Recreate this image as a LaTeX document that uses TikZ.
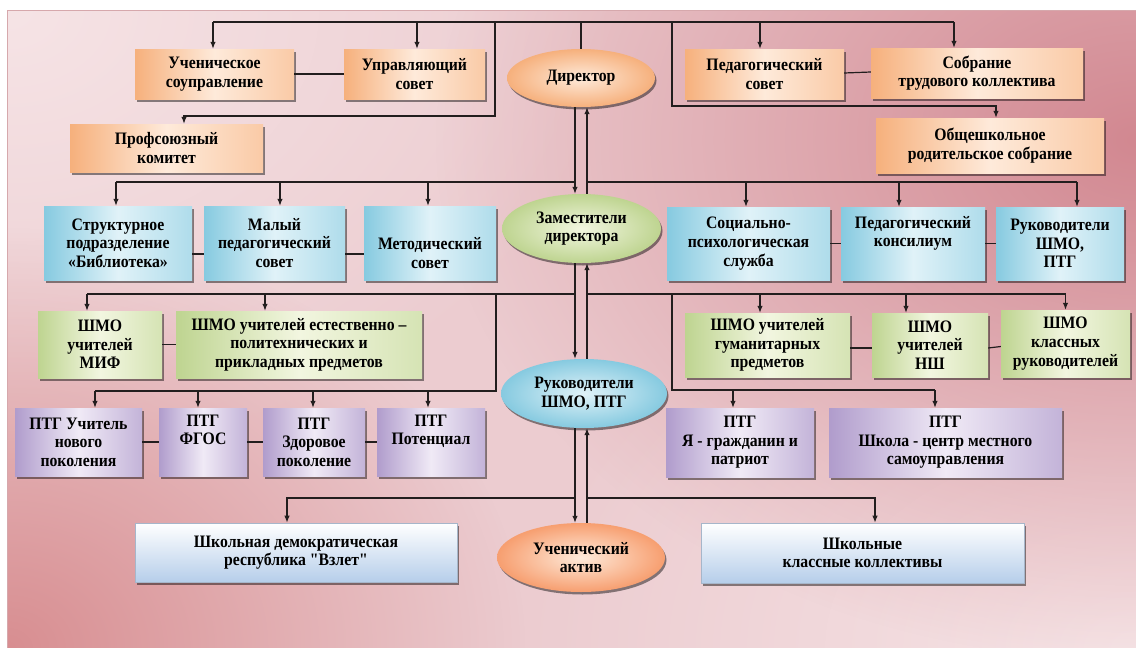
\documentclass[tikz,border=0pt]{standalone}
\usepackage{fontspec}
\setmainfont{Liberation Serif}[Ligatures=TeXOff]
\usepackage{tikz}
\usetikzlibrary{positioning, shapes.geometric, shadows, fadings, arrows.meta}

\definecolor{bgBase}{RGB}{236, 204, 208}
\definecolor{bgLight}{RGB}{246, 228, 230}
\definecolor{bgDark}{RGB}{210, 136, 145}
\definecolor{bgDarkB}{RGB}{216, 142, 145}
\definecolor{bgEdge}{RGB}{214, 168, 172}
\definecolor{orgCol}{RGB}{246, 176, 124}
\definecolor{orgLight}{RGB}{254, 234, 218}
\definecolor{bluCol}{RGB}{134, 202, 224}
\definecolor{bluLight}{RGB}{224, 242, 248}
\definecolor{grnCol}{RGB}{190, 212, 144}
\definecolor{grnLight}{RGB}{242, 246, 224}
\definecolor{purCol}{RGB}{176, 156, 204}
\definecolor{purLight}{RGB}{240, 234, 246}
\definecolor{whtBot}{RGB}{182, 206, 234}
\definecolor{lineCol}{RGB}{34, 30, 30}

\tikzfading[name=softSpot, inner color=transparent!0, outer color=transparent!100]

\tikzset{myLine/.style={line width=1.2pt, color=lineCol}}
\tikzset{myArrow/.style={myLine, -{Latex[length=7pt, width=5.5pt]}}}
\tikzset{mySize/.style 2 args={minimum width=#1pt, minimum height=#2pt}}
\tikzset{myBase/.style={align=center, inner sep=1pt,
	font=\addfontfeature{FakeStretch=0.9}\bfseries\fontsize{17.5}{18.6}\selectfont,
	drop shadow={shadow xshift=1.5pt, shadow yshift=-2.5pt, opacity=0.45, fill=black}}}
\tikzset{orgBox/.style={myBase, rectangle, left color=orgCol, right color=orgCol!55!orgLight, middle color=orgLight}}
\tikzset{bluBox/.style={myBase, rectangle, left color=bluCol, right color=bluCol!55!bluLight, middle color=bluLight}}
\tikzset{grnBox/.style={myBase, rectangle, left color=grnCol, right color=grnCol!55!grnLight, middle color=grnLight}}
\tikzset{purBox/.style={myBase, rectangle, left color=purCol, right color=purCol!70!purLight, middle color=purLight}}
\tikzset{whtBox/.style={myBase, rectangle, top color=white, bottom color=whtBot, draw=whtBot!70!gray, line width=0.6pt}}
\tikzset{myOval/.style={myBase, ellipse, inner sep=0pt}}

\begin{document}
\begin{tikzpicture}[x=1pt, y=-1pt]
	\useasboundingbox (0,0) rectangle (1136,648);
	%background
	\begin{scope}
		\clip (7,10) rectangle (1136,648);
		\fill[bgBase] (7,10) rectangle (1136,648);
		\fill[bgLight, path fading=softSpot] (7,10) ellipse [x radius=620pt, y radius=460pt];
		\fill[bgLight, path fading=softSpot] (1136,648) ellipse [x radius=620pt, y radius=420pt];
		\fill[bgDark, path fading=softSpot] (1136,140) ellipse [x radius=700pt, y radius=520pt];
		\fill[bgDarkB, path fading=softSpot] (7,648) ellipse [x radius=520pt, y radius=420pt];
	\end{scope}
	\draw[bgEdge, line width=0.8pt] (1136,10) -- (7,10) -- (7,648);

	%ovals
	\node[myOval, mySize={148}{58}, inner color=orgLight, outer color=orgCol] (dir) at (581,78) {Директор};
	\node[myOval, mySize={159}{69}, inner color=grnLight, outer color=grnCol] (zam) at (581.5,228.5) {Заместители\\директора};
	\node[myOval, mySize={166}{69}, inner color=bluLight, outer color=bluCol] (rukOval) at (584,393.5) {Руководители\\ШМО, ПТГ};
	\node[myOval, mySize={168}{69}, inner color=orgLight, outer color=orgCol!90!red] (uchAkt) at (581,557.5) {Ученический\\актив};

	%orange boxes
	\node[orgBox, mySize={159}{50}] (uchSou) at (214.5,74) {Ученическое\\соуправление};
	\node[orgBox, mySize={141}{50}] (uprSov) at (414.5,74) {Управляющий\\совет};
	\node[orgBox, mySize={193}{48}] (prof) at (166.5,148) {Профсоюзный\\комитет};
	\node[orgBox, mySize={159}{50}] (pedSov) at (764.5,74) {Педагогический\\совет};
	\node[orgBox, mySize={212}{50}] (sobr) at (977,73) {Собрание\\трудового коллектива};
	\node[orgBox, mySize={228}{55}] (obsh) at (990,145.5) {Общешкольное\\родительское собрание};

	%blue boxes
	\node[bluBox, mySize={148}{74}] (strPod) at (118,243) {Структурное\\подразделение\\«Библиотека»};
	\node[bluBox, mySize={141}{74}] (malPed) at (274.5,243) {Малый\\педагогический\\совет};
	\node[bluBox, mySize={132}{74}] (metSov) at (430,243) {\strut\\Методический\\совет};
	\node[bluBox, mySize={163}{73}] (socPsy) at (748.5,243.5) {Социально-\\психологическая\\служба};
	\node[bluBox, mySize={144}{73}] (pedKon) at (913,243.5) {Педагогический\\консилиум\\\strut};
	\node[bluBox, mySize={128}{73}] (rukShmo) at (1060,243.5) {Руководители\\ШМО,\\ПТГ};

	%green boxes
	\node[grnBox, mySize={124}{67}] (shmoMif) at (100,344.5) {ШМО\\учителей\\МИФ};
	\node[grnBox, mySize={246}{67}] (shmoEst) at (299,344.5) {ШМО учителей естественно –\\политехнических и\\прикладных предметов};
	\node[grnBox, mySize={165}{64}] (shmoGum) at (767.5,345) {ШМО учителей\\гуманитарных\\предметов};
	\node[grnBox, mySize={116}{64}] (shmoNsh) at (930,345) {ШМО\\учителей\\НШ};
	\node[grnBox, mySize={129}{67}] (shmoKl) at (1065.5,343.5) {ШМО\\классных\\руководителей};

	%purple boxes
	\node[purBox, mySize={127}{68}] (ptgUch) at (78.5,442) {ПТГ Учитель\\нового\\поколения};
	\node[purBox, mySize={88}{68}] (ptgFgos) at (203,442) {ПТГ\\ФГОС\\\strut};
	\node[purBox, mySize={102}{68}] (ptgZdor) at (314,442) {ПТГ\\Здоровое\\поколение};
	\node[purBox, mySize={108}{68}] (ptgPot) at (431,442) {ПТГ\\Потенциал\\\strut};
	\node[purBox, mySize={148}{69}] (ptgGrazh) at (740,442.5) {ПТГ\\Я - гражданин и\\патриот};
	\node[purBox, mySize={233}{69}] (ptgShk) at (945.5,442.5) {ПТГ\\Школа - центр местного\\самоуправления};

	%white boxes
	\node[whtBox, mySize={322}{59}] (shkDem) at (296,552.5) {Школьная демократическая\\республика "Взлет"};
	\node[whtBox, mySize={323}{60}] (shkKl) at (862.5,553) {Школьные\\классные коллективы};

	%main column
	\coordinate (vDn) at (575,0);
	\coordinate (vUp) at (587,0);
	\draw[myArrow] (dir.south -| vDn) -- (zam.north -| vDn);
	\draw[myArrow] (zam.north -| vUp) -- (dir.south -| vUp);
	\draw[myArrow] (zam.south -| vDn) -- (rukOval.north -| vDn);
	\draw[myArrow] (rukOval.north -| vUp) -- (zam.south -| vUp);
	\draw[myArrow] (rukOval.south -| vDn) -- (uchAkt.north -| vDn);
	\draw[myArrow] (uchAkt.north -| vUp) -- (rukOval.south -| vUp);

	%top bus
	\coordinate (topA) at (213,22);
	\coordinate (topB) at (954,22);
	\coordinate (hookL) at (495,116);
	\coordinate (hookR) at (672,106);
	\draw[myLine] (topA) -- (topB);
	\draw[myLine] (dir.north) -- (dir.north |- topA);
	\draw[myArrow] (topA) -- (topA |- uchSou.north);
	\draw[myArrow] ([xshift=2.5pt]uprSov.north |- topA) -- ([xshift=2.5pt]uprSov.north);
	\draw[myArrow] ([xshift=-4.5pt]pedSov.north |- topA) -- ([xshift=-4.5pt]pedSov.north);
	\draw[myArrow] (topB) -- (topB |- sobr.north);
	\draw[myArrow] (hookL |- topA) -- (hookL) -| ([xshift=17.5pt]prof.north);
	\draw[myArrow] (hookR |- topA) -- (hookR) -| ([xshift=6pt]obsh.north);
	\draw[myLine] (uchSou.east) -- (uprSov.west);
	\draw[myLine] ([yshift=1pt]pedSov.east) -- ([yshift=1pt]sobr.west);

	%second bus
	\coordinate (busB) at (0,182);
	\draw[myLine] ([xshift=-2pt]strPod.north |- busB) -- (vDn |- busB);
	\draw[myLine] (vUp |- busB) -- ([xshift=17pt]rukShmo.north |- busB);
	\draw[myArrow] ([xshift=-2pt]strPod.north |- busB) -- ([xshift=-2pt]strPod.north);
	\draw[myArrow] ([xshift=5.5pt]malPed.north |- busB) -- ([xshift=5.5pt]malPed.north);
	\draw[myArrow] ([xshift=-2pt]metSov.north |- busB) -- ([xshift=-2pt]metSov.north);
	\draw[myArrow] ([xshift=-2.5pt]socPsy.north |- busB) -- ([xshift=-2.5pt]socPsy.north);
	\draw[myArrow] ([xshift=-14pt]pedKon.north |- busB) -- ([xshift=-14pt]pedKon.north);
	\draw[myArrow] ([xshift=17pt]rukShmo.north |- busB) -- ([xshift=17pt]rukShmo.north);
	\draw[myLine] ([yshift=-11pt]strPod.east) -- ([yshift=-11pt]malPed.west);
	\draw[myLine] ([yshift=-11pt]malPed.east) -- ([yshift=-11pt]metSov.west);
	\draw[myLine] (socPsy.east) -- (pedKon.west);
	\draw[myLine] (pedKon.east) -- (rukShmo.west);

	%third bus
	\coordinate (busC) at (0,294);
	\coordinate (hookC) at (496,391);
	\coordinate (hookD) at (672,390);
	\draw[myLine] ([xshift=-13pt]shmoMif.north |- busC) -- (vDn |- busC);
	\draw[myLine] (vUp |- busC) -- (shmoKl.north |- busC);
	\draw[myArrow] ([xshift=-13pt]shmoMif.north |- busC) -- ([xshift=-13pt]shmoMif.north);
	\draw[myArrow] ([xshift=-34pt]shmoEst.north |- busC) -- ([xshift=-34pt]shmoEst.north);
	\draw[myArrow] ([xshift=-7.5pt]shmoGum.north |- busC) -- ([xshift=-7.5pt]shmoGum.north);
	\draw[myArrow] ([xshift=-24pt]shmoNsh.north |- busC) -- ([xshift=-24pt]shmoNsh.north);
	\draw[myArrow] (shmoKl.north |- busC) -- (shmoKl.north);
	\draw[myLine] (shmoMif.east) -- (shmoEst.west);
	\draw[myLine] ([yshift=-3pt]shmoGum.east) -- ([yshift=-3pt]shmoNsh.west);
	\draw[myLine] ([yshift=-3pt]shmoNsh.east) -- ([yshift=-3pt]shmoKl.west);

	%fourth bus
	\draw[myLine] (hookC |- busC) -- (hookC) -- ([xshift=16.5pt]ptgUch.north |- hookC);
	\draw[myLine] (hookD |- busC) -- (hookD) -- ([xshift=-10.5pt]ptgShk.north |- hookD);
	\draw[myArrow] ([xshift=16.5pt]ptgUch.north |- hookC) -- ([xshift=16.5pt]ptgUch.north);
	\draw[myArrow] ([xshift=-5pt]ptgFgos.north |- hookC) -- ([xshift=-5pt]ptgFgos.north);
	\draw[myArrow] ([xshift=-1pt]ptgZdor.north |- hookC) -- ([xshift=-1pt]ptgZdor.north);
	\draw[myArrow] ([xshift=-3pt]ptgPot.north |- hookC) -- ([xshift=-3pt]ptgPot.north);
	\draw[myArrow] ([xshift=-7pt]ptgGrazh.north |- hookD) -- ([xshift=-7pt]ptgGrazh.north);
	\draw[myArrow] ([xshift=-10.5pt]ptgShk.north |- hookD) -- ([xshift=-10.5pt]ptgShk.north);
	\draw[myLine] (ptgUch.east) -- (ptgFgos.west);
	\draw[myLine] (ptgFgos.east) -- (ptgZdor.west);
	\draw[myLine] (ptgZdor.east) -- (ptgPot.west);

	%fifth bus
	\coordinate (busE) at (0,498);
	\draw[myArrow] (vDn |- busE) -| ([xshift=-9pt]shkDem.north);
	\draw[myArrow] (vUp |- busE) -| ([xshift=12.5pt]shkKl.north);
\end{tikzpicture}
\end{document}
